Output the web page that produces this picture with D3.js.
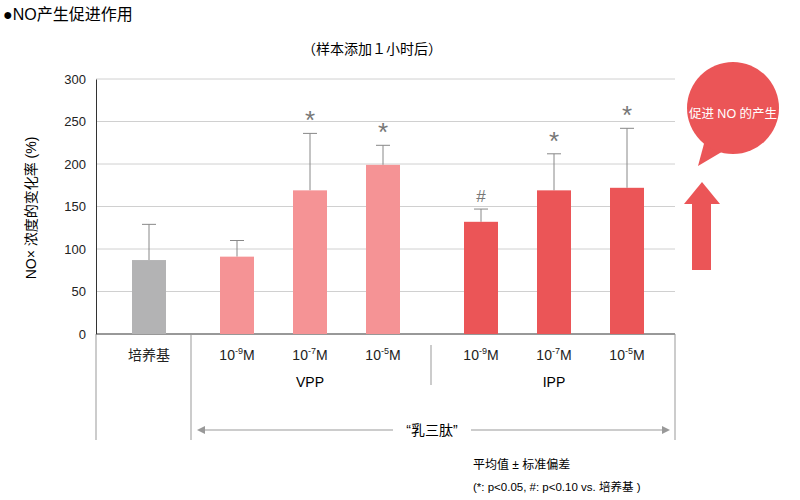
<!DOCTYPE html>
<html><head><meta charset="utf-8">
<script src="https://cdn.jsdelivr.net/npm/d3@7"></script>
<style>body{margin:0;background:#fff;font-family:"Liberation Sans","Noto Sans CJK SC",sans-serif}</style>
</head><body>
<script>
var categories = ["培养基","10|-9|M","10|-7|M","10|-5|M","10|-9|M","10|-7|M","10|-5|M"];
var values = [87, 91, 169, 199, 132, 169, 172];
var errors = [42, 19, 67, 23, 15, 43, 70];
var marks = ["", "", "*", "*", "#", "*", "*"];
var groups = ["base","VPP","VPP","VPP","IPP","IPP","IPP"];
var yTicks = [0, 50, 100, 150, 200, 250, 300];

var w = 800, h = 500;
var colors = {base: "#b3b3b4", VPP: "#f59395", IPP: "#eb5557"};
var svg = d3.select("body").append("svg").attr("width", w).attr("height", h);

var y = d3.scaleLinear().domain([0, 300]).range([334, 79]);
var x = d3.scaleOrdinal().domain(d3.range(7)).range([149, 237, 310, 383, 481, 554, 627]);
var bw = 34;

// grid
svg.selectAll(".grid").data(yTicks.slice(1)).enter().append("line")
  .attr("x1", 96).attr("x2", 675).attr("y1", d => y(d)).attr("y2", d => y(d))
  .attr("stroke", "#d0d0d0").attr("stroke-width", 1);

var yAxis = d3.axisLeft(y).tickValues(yTicks).tickSize(0).tickPadding(10);
var ga = svg.append("g").attr("transform", "translate(96,0)").call(yAxis);
ga.select(".domain").attr("stroke", "#333");
ga.selectAll("text").attr("font-size", 13).attr("fill", "#222").attr("font-family", "Liberation Sans");

// baseline
svg.append("line").attr("x1", 96).attr("x2", 675).attr("y1", 334).attr("y2", 334).attr("stroke", "#333");

// error bars
svg.selectAll(".err").data(values).enter().append("line")
  .attr("x1", (d,i) => x(i)).attr("x2", (d,i) => x(i))
  .attr("y1", d => y(d)).attr("y2", (d,i) => y(d + errors[i])).attr("stroke", "#888");
svg.selectAll(".cap").data(values).enter().append("line")
  .attr("x1", (d,i) => x(i) - 7).attr("x2", (d,i) => x(i) + 7)
  .attr("y1", (d,i) => y(d + errors[i])).attr("y2", (d,i) => y(d + errors[i])).attr("stroke", "#888");

svg.selectAll(".bar").data(values).enter().append("rect")
  .attr("x", (d,i) => x(i) - bw/2).attr("width", bw)
  .attr("y", d => y(d)).attr("height", d => 334 - y(d))
  .attr("fill", (d,i) => colors[groups[i]]);

svg.selectAll(".mark").data(values).enter().append("text")
  .attr("x", (d,i) => x(i)).attr("y", (d,i) => y(d + errors[i]) - (marks[i] == "#" ? 7 : 4))
  .attr("text-anchor", "middle").attr("fill", "#777")
  .attr("font-size", (d,i) => marks[i] == "#" ? 17 : 26).attr("font-family", "Liberation Sans")
  .text((d,i) => marks[i]);

// category labels
categories.forEach(function(c, i) {
  var t = svg.append("text").attr("x", x(i)).attr("y", 360).attr("text-anchor", "middle")
    .attr("font-size", 14).attr("fill", "#222");
  var p = c.split("|");
  if (p.length == 1) { t.text(c); return; }
  t.append("tspan").text(p[0]);
  t.append("tspan").attr("dy", -6).attr("font-size", 9).text(p[1]);
  t.append("tspan").attr("dy", 6).text(p[2]);
});
svg.append("text").attr("x", 310).attr("y", 387).attr("text-anchor", "middle").attr("font-size", 14).text("VPP");
svg.append("text").attr("x", 554).attr("y", 387).attr("text-anchor", "middle").attr("font-size", 14).text("IPP");

// separators
[[96, 334, 440], [191, 334, 440], [431, 345, 385], [675, 334, 440]].forEach(function(s) {
  svg.append("line").attr("x1", s[0]).attr("x2", s[0]).attr("y1", s[1]).attr("y2", s[2]).attr("stroke", "#999");
});
svg.append("line").attr("x1", 200).attr("x2", 666).attr("y1", 430).attr("y2", 430).attr("stroke", "#999");
svg.append("path").attr("d", "M197,430 l8,-4 v8 z").attr("fill", "#999");
svg.append("path").attr("d", "M670,430 l-8,-4 v8 z").attr("fill", "#999");
svg.append("rect").attr("x", 393).attr("y", 420).attr("width", 78).attr("height", 20).attr("fill", "#fff");
svg.append("text").attr("x", 432).attr("y", 435).attr("text-anchor", "middle").attr("font-size", 14).text("“乳三肽”");

// titles
svg.append("text").attr("x", 3).attr("y", 20).attr("font-size", 16).text("●NO产生促进作用");
svg.append("text").attr("x", 372).attr("y", 54).attr("text-anchor", "middle").attr("font-size", 14).text("（样本添加１小时后）");
svg.append("text").attr("transform", "translate(36,208) rotate(-90)").attr("text-anchor", "middle")
  .attr("font-size", 14).text("NO× 浓度的变化率 (%)");

// balloon
svg.append("path").attr("d", "M705,140 L698,166 L725,150 z").attr("fill", "#eb5557");
svg.append("circle").attr("cx", 733).attr("cy", 108).attr("r", 46).attr("fill", "#eb5557");
svg.append("text").attr("x", 733).attr("y", 118).attr("text-anchor", "middle").attr("fill", "#fff")
  .attr("font-size", 12.5).text("促进 NO 的产生");
// arrow
svg.append("rect").attr("x", 692).attr("y", 200).attr("width", 19).attr("height", 70).attr("fill", "#eb5557");
svg.append("path").attr("d", "M684,204 L702,182 L720,204 z").attr("fill", "#eb5557");

// footnote
svg.append("text").attr("x", 473).attr("y", 469).attr("font-size", 12).text("平均值 ± 标准偏差");
svg.append("text").attr("x", 473).attr("y", 491).attr("font-size", 11.5).text("(*: p<0.05, #: p<0.10 vs. 培养基 )");
</script>
</body></html>
